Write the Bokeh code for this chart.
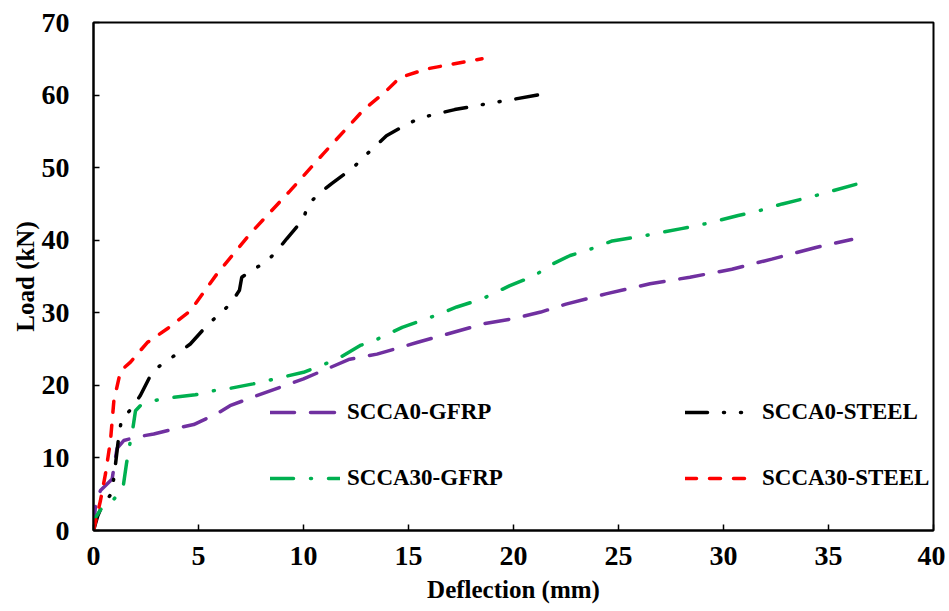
from bokeh.plotting import figure
from bokeh.models import Range1d, SingleIntervalTicker, Legend, LegendItem
from bokeh.embed import file_html
from bokeh.resources import INLINE

# ---- data ----
gfrp0_x = [0, 0.1, 0.33, 0.89, 0.97, 1.12, 1.44, 2.08, 2.87, 4.13, 4.77, 5.88, 6.5, 7.6, 10.0,
           12.2, 13.5, 15.4, 18.6, 20.0, 21.3, 22.5, 24.4, 26.5, 28.4, 30.4, 32.3, 34.4, 36.1]
gfrp0_y = [0, 3.7, 5.5, 7.1, 8.7, 11.3, 12.4, 12.9, 13.3, 14.2, 14.6, 16.1, 17.2, 18.4, 20.9,
           23.6, 24.3, 25.9, 28.5, 29.2, 30.1, 31.2, 32.6, 34.0, 34.9, 36.0, 37.4, 39.0, 40.1]

steel0_x = [0, 0.2, 0.41, 0.86, 0.97, 1.05, 1.2, 1.33, 1.81, 2.23, 2.79, 3.37, 3.97, 4.61, 5.48,
            6.0, 6.54, 6.95, 7.06, 7.62, 8.22, 8.73, 9.2, 9.99, 10.23, 10.78, 11.34, 12.37, 12.84,
            13.44, 13.95, 15.06, 15.77, 16.48, 17.2, 18.54, 19.97, 21.5]
steel0_y = [0, 2.0, 3.4, 5.1, 7.3, 9.2, 12.9, 15.2, 16.8, 18.6, 21.8, 23.2, 24.3, 25.7, 28.5,
            29.8, 31.3, 33.1, 34.9, 36.0, 37.0, 38.5, 40.2, 42.9, 45.0, 46.5, 47.8, 50.0, 51.4,
            53.0, 54.4, 56.2, 57.0, 57.5, 58.0, 58.7, 59.4, 60.2]

gfrp30_x = [0, 0.1, 0.41, 0.97, 1.41, 1.57, 1.71, 1.87, 2.0, 2.23, 2.87, 3.66, 4.85, 5.56, 6.35,
            7.6, 10.0, 11.6, 12.7, 13.4, 14.7, 15.9, 17.3, 18.5, 19.8, 21.0, 21.7, 22.7, 23.5,
            24.7, 26.2, 28.0, 28.9, 30.7, 31.5, 32.8, 34.2, 36.3]
gfrp30_y = [0, 1.8, 3.2, 4.3, 6.0, 9.2, 11.6, 14.0, 16.5, 17.2, 17.9, 18.3, 18.7, 19.2, 19.5,
            20.2, 21.8, 23.6, 25.5, 26.2, 28.0, 29.2, 30.8, 31.9, 33.7, 35.1, 36.5, 37.9, 38.6,
            39.9, 40.6, 41.6, 42.1, 43.4, 43.9, 45.0, 46.0, 47.7]

steel30_x = [0, 0.33, 0.57, 0.81, 0.97, 1.29, 1.76, 2.56, 3.51, 4.62, 5.89, 7.46, 9.36, 10.94,
             12.84, 13.95, 14.58, 15.85, 18.5]
steel30_y = [0, 4.1, 7.8, 12.4, 17.9, 22.0, 23.2, 25.9, 27.8, 30.3, 35.4, 40.9, 46.8, 51.9,
             57.9, 60.6, 62.4, 63.6, 65.0]

labels = ["SCCA0-GFRP", "SCCA0-STEEL", "SCCA30-GFRP", "SCCA30-STEEL"]

FONT = "Liberation Serif"

p = figure(width=945, height=611, output_backend="svg", toolbar_location=None,
           x_range=Range1d(0, 40), y_range=Range1d(0, 70),
           min_border_left=93, min_border_top=22, min_border_right=12, min_border_bottom=81)

p.xgrid.visible = False
p.ygrid.visible = False
p.outline_line_color = "black"
p.outline_line_width = 2
p.background_fill_color = "white"
p.border_fill_color = "white"

p.xaxis.ticker = SingleIntervalTicker(interval=5)
p.yaxis.ticker = SingleIntervalTicker(interval=10)
for ax in (p.xaxis[0], p.yaxis[0]):
    ax.axis_line_color = "black"
    ax.axis_line_width = 2
    ax.major_tick_in = 6
    ax.major_tick_out = 0
    ax.major_tick_line_color = "black"
    ax.major_tick_line_width = 1.5
    ax.minor_tick_line_color = None
    ax.major_label_text_font = FONT
    ax.major_label_text_font_style = "bold"
    ax.major_label_text_font_size = "28px"
    ax.major_label_text_color = "black"
    ax.axis_label_text_font = FONT
    ax.axis_label_text_font_style = "bold"
    ax.axis_label_text_font_size = "25px"
    ax.axis_label_text_color = "black"

p.xaxis.axis_label = "Deflection (mm)"
p.yaxis.axis_label = "Load (kN)"
p.xaxis.major_label_standoff = 12
p.xaxis.axis_label_standoff = 8
p.yaxis.major_label_standoff = 20
p.yaxis.axis_label_standoff = 0

LW = 3.5
r_g0 = p.line(gfrp0_x, gfrp0_y, line_color="#7030A0", line_width=LW, line_dash="24 16", line_cap="round")
r_s0 = p.line(steel0_x, steel0_y, line_color="black", line_width=LW, line_dash="22 16 1 16 1 16", line_cap="round")
r_g30 = p.line(gfrp30_x, gfrp30_y, line_color="#00B050", line_width=LW, line_dash="23 17 1 17", line_cap="round")
r_s30 = p.line(steel30_x, steel30_y, line_color="#FF0000", line_width=LW, line_dash="11 13", line_cap="round")

def make_legend(items, loc):
    lg = Legend(items=items, location=loc, orientation="vertical", spacing=40, padding=0, margin=0,
                glyph_width=70, glyph_height=24, label_height=24, label_standoff=7,
                border_line_alpha=0, background_fill_alpha=0,
                label_text_font=FONT, label_text_font_style="bold", label_text_font_size="23px",
                label_text_color="black")
    return lg

leg1 = make_legend([LegendItem(label=labels[0], renderers=[r_g0]),
                    LegendItem(label=labels[2], renderers=[r_g30])], (177, 39))
leg2 = make_legend([LegendItem(label=labels[1], renderers=[r_s0]),
                    LegendItem(label=labels[3], renderers=[r_s30])], (592, 39))
p.add_layout(leg1)
p.add_layout(leg2)

open("out.html", "w").write(file_html(p, INLINE))
